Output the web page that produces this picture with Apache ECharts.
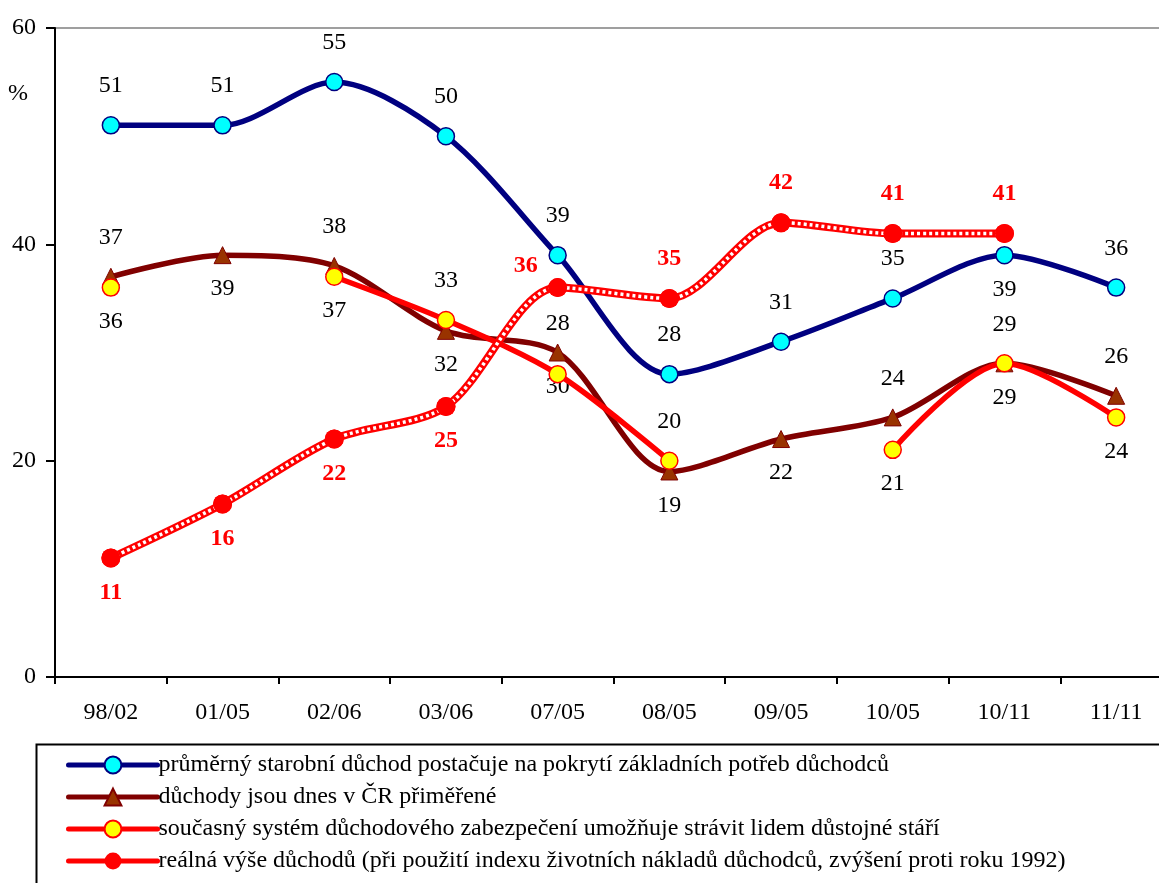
<!DOCTYPE html>
<html><head><meta charset="utf-8">
<script src="https://cdn.jsdelivr.net/npm/echarts@6/dist/echarts.min.js"></script>
<style>html,body{margin:0;padding:0;background:#fff}#c{width:1159px;height:883px}</style>
</head><body><div id="c"></div>
<script>
const categories = ['98/02','01/05','02/06','03/06','07/05','08/05','09/05','10/05','10/11','11/11'];
const seriesNames = [
  'průměrný starobní důchod postačuje na pokrytí základních potřeb důchodců',
  'důchody jsou dnes v ČR přiměřené',
  'současný systém důchodového zabezpečení umožňuje strávit lidem důstojné stáří',
  'reálná výše důchodů (při použití indexu životních nákladů důchodců, zvýšení proti roku 1992)'
];
const prumerny = [51, 51, 55, 50, 39, 28, 31, 35, 39, 36];
const primerene = [37, 39, 38, 32, 30, 19, 22, 24, 29, 26];
const system = [36, null, 37, 33, 28, 20, null, 21, 29, 24];
const realna = [11, 16, 22, 25, 36, 35, 42, 41, 41, null];
const yTicks = [0, 20, 40, 60];

// label placement: t = above, b = below, T = further above, L = upper-left
const prumernyLab = ['t','t','t','t','t','t','t','t','b','t'];
const primereneLab = ['t','b','t','b','b','b','b','t','t','t'];
const systemLab = ['b','b','b','t','T','t','b','b','b','b'];
const realnaLab = ['b','b','b','b','L','t','t','t','t','t'];

const FONT = 'Liberation Serif';
const FS = 24;
function lab(code){
  if(code==='t') return {position:'top', distance:18};
  if(code==='T') return {position:'top', distance:29};
  if(code==='b') return {position:'bottom', distance:13};
  if(code==='L') return {position:'top', distance:0, offset:[-32,0]};
  return {};
}
function build(vals, labs){
  return vals.map((v,i)=> v===null ? null : ({value:v, label:lab(labs[i])}));
}
const baseLabel = {show:true, fontFamily:FONT, fontSize:FS, fontWeight:'normal', color:'#000'};
const chart = echarts.init(document.getElementById('c'), null, {renderer:'canvas'});
chart.setOption({
  animation:false,
  backgroundColor:'#fff',
  textStyle:{fontFamily:FONT},
  grid:{left:55, top:28, right:-13, bottom:206, outerBoundsMode:'none', containLabel:false,
    show:true, borderColor:'#808080', borderWidth:1.5, backgroundColor:'transparent'},
  xAxis:{type:'category', data:categories, boundaryGap:true,
    axisLine:{lineStyle:{color:'#000', width:2}},
    axisTick:{show:true, length:7, lineStyle:{color:'#000', width:2}},
    axisLabel:{fontFamily:FONT, fontSize:FS, fontWeight:'normal', color:'#000', margin:24},
    splitLine:{show:false}},
  yAxis:{type:'value', min:yTicks[0], max:yTicks[yTicks.length-1], interval:20,
    axisLine:{show:true, lineStyle:{color:'#000', width:2}},
    axisTick:{show:true, length:9, lineStyle:{color:'#000', width:2}},
    axisLabel:{fontFamily:FONT, fontSize:FS, fontWeight:'normal', color:'#000', margin:19},
    splitLine:{show:false}},
  legend:{orient:'vertical', left:66, top:753, padding:0, itemWidth:89, itemHeight:21, itemGap:8,
    data:seriesNames, selectedMode:false,
    lineStyle:{width:5, cap:'round'},
    textStyle:{fontFamily:FONT, fontSize:FS, fontWeight:'normal', color:'#000', padding:[0,0,0,-4]}},
  graphic:[
    {type:'rect', left:34, top:742, shape:{width:1200, height:200}, style:{fill:'none', stroke:'#000', lineWidth:2}, silent:true},
    {type:'text', left:8, top:82, style:{text:'%', fontFamily:FONT, fontSize:FS, fill:'#000'}}
  ],
  series:[
    {name:seriesNames[0], type:'line', smooth:0.3, data:build(prumerny, prumernyLab),
      symbol:'circle', symbolSize:17,
      lineStyle:{color:'#000080', width:5.5, cap:'round'}, itemStyle:{color:'#00ffff', borderColor:'#000080', borderWidth:1.5},
      label:baseLabel, z:2},
    {name:seriesNames[1], type:'line', smooth:0.3, data:build(primerene, primereneLab),
      symbol:'triangle', symbolSize:17,
      lineStyle:{color:'#800000', width:5.5, cap:'round'}, itemStyle:{color:'#993300', borderColor:'#800000', borderWidth:1},
      label:baseLabel, z:3},
    {name:seriesNames[2], type:'line', smooth:0.3, connectNulls:false, data:build(system, systemLab),
      symbol:'circle', symbolSize:17, showAllSymbol:true,
      lineStyle:{color:'#ff0000', width:5.5, cap:'round'}, itemStyle:{color:'#ffff00', borderColor:'#ff0000', borderWidth:1.5},
      label:baseLabel, z:4},
    {name:seriesNames[3], type:'line', smooth:0.3, data:build(realna, realnaLab),
      symbol:'circle', symbolSize:19,
      lineStyle:{color:'#ff0000', width:8}, itemStyle:{color:'#ff0000', borderColor:'#ff0000', borderWidth:0},
      label:Object.assign({}, baseLabel, {color:'#ff0000', fontWeight:'bold'}), z:5},
    {name:'realna-pattern', type:'line', smooth:0.3, data:realna, showSymbol:false, symbol:'none',
      lineStyle:{color:'#ffffff', width:3.5, type:[3,3]}, z:6, silent:true},
    {name:'realna-markers', type:'line', smooth:0.3, data:realna, symbol:'circle', symbolSize:19,
      lineStyle:{opacity:0, width:0}, itemStyle:{color:'#ff0000', borderWidth:0}, z:7, silent:true}
  ]
});
</script></body></html>
